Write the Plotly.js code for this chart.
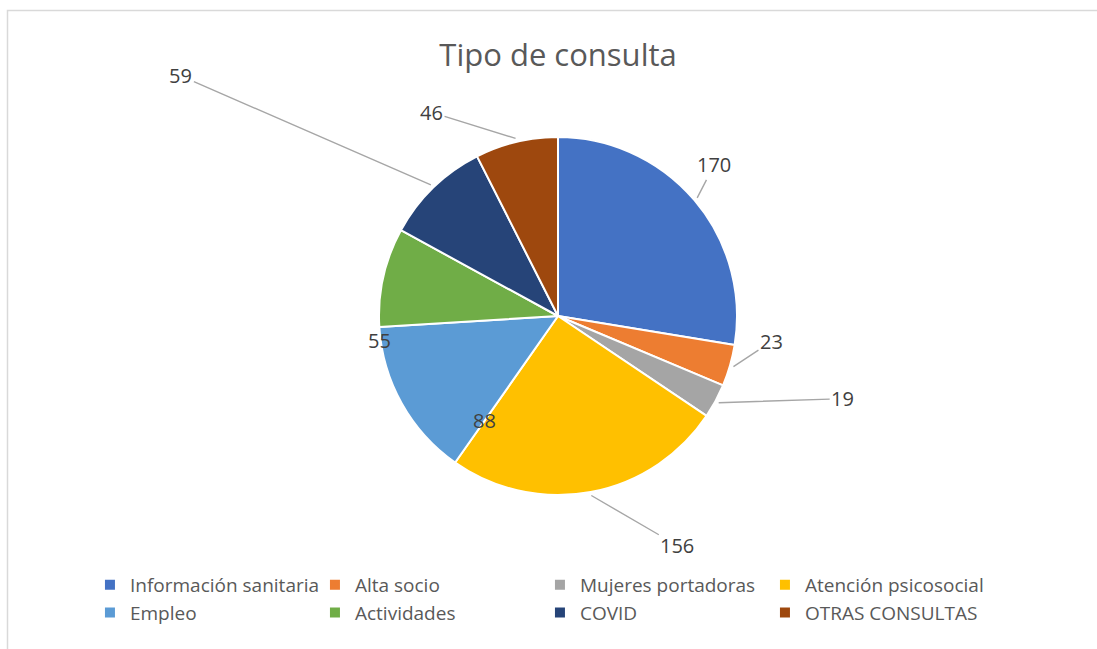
<!DOCTYPE html>
<html>
<head>
<meta charset="utf-8">
<script src="https://cdn.plot.ly/plotly-3.0.1.min.js"></script>
<style>
  html, body { margin: 0; padding: 0; background: #ffffff; }
  #chart { width: 1097px; height: 649px; }
</style>
</head>
<body>
<div id="chart"></div>
<script>
// ---- data ----
const categories = ["Información sanitaria", "Alta socio", "Mujeres portadoras", "Atención psicosocial",
                    "Empleo", "Actividades", "COVID", "OTRAS CONSULTAS"];
const values = [170, 23, 19, 156, 88, 55, 59, 46];
const sliceColors = ["#4472C4", "#ED7D31", "#A5A5A5", "#FFC000", "#5B9BD5", "#70AD47", "#264478", "#9E480E"];

// ---- label placement (layout only: pixel offsets from each slice's edge midpoint) ----
const labelOffsets = [[17, -33], [38, -25], [124, -4], [86, 50], [86, 15], [0, 64], [-250, -109], [-84, -26]];
const labelLeader  = [true, true, true, true, false, false, true, true];

// ---- geometry ----
const W = 1097, H = 649;
const cxPx = 558, cyPx = 316, rPx = 179;
const domX = [(cxPx - rPx) / W, (cxPx + rPx) / W];
const domY = [1 - (cyPx + rPx) / H, 1 - (cyPx - rPx) / H];

const total = values.reduce((a, b) => a + b, 0);
const annotations = [];
let cum = 0;
values.forEach((v, i) => {
  const mid = (cum + v / 2) / total * 2 * Math.PI; // clockwise from 12 o'clock
  cum += v;
  const ax = cxPx + rPx * 1.02 * Math.sin(mid);
  const ay = cyPx - rPx * 1.02 * Math.cos(mid);
  const base = {
    x: ax / W, y: 1 - ay / H, xref: 'paper', yref: 'paper',
    text: String(v),
    font: {family: 'Open Sans, sans-serif', size: 20, color: '#404040'}
  };
  if (labelLeader[i]) {
    Object.assign(base, {
      showarrow: true, arrowhead: 0, arrowwidth: 1.4, arrowcolor: '#A6A6A6', standoff: 0,
      ax: labelOffsets[i][0], ay: labelOffsets[i][1], axref: 'pixel', ayref: 'pixel'
    });
  } else {
    Object.assign(base, {showarrow: false, xshift: labelOffsets[i][0], yshift: -labelOffsets[i][1]});
  }
  annotations.push(base);
});

const trace = {
  type: 'pie',
  labels: categories,
  values: values,
  sort: false,
  direction: 'clockwise',
  rotation: 0,
  textinfo: 'none',
  hoverinfo: 'label+value',
  marker: {colors: sliceColors, line: {color: '#ffffff', width: 2}},
  domain: {x: domX, y: domY}
};

const layout = {
  width: W, height: H,
  margin: {l: 0, r: 0, t: 0, b: 0},
  paper_bgcolor: '#ffffff',
  font: {family: 'Open Sans, sans-serif', color: '#595959'},
  title: {
    text: 'Tipo de consulta',
    font: {family: 'Open Sans, sans-serif', size: 31, color: '#595959'},
    x: 0.5087, xanchor: 'center', y: 1 - 55 / H, yanchor: 'middle'
  },
  showlegend: true,
  legend: {
    orientation: 'h',
    x: 0.082, xanchor: 'left',
    y: 1 - 566 / H, yanchor: 'top',
    entrywidth: 180, entrywidthmode: 'pixels',
    itemwidth: 30,
    font: {family: 'Open Sans, sans-serif', size: 19, color: '#595959'},
    traceorder: 'normal'
  },
  annotations: annotations,
  shapes: [{
    type: 'rect', xref: 'paper', yref: 'paper',
    x0: 7.5 / W, x1: 1.1, y0: -0.1, y1: 1 - 10.5 / H,
    line: {color: '#D9D9D9', width: 1.5}, fillcolor: 'rgba(0,0,0,0)', layer: 'below'
  }]
};

Plotly.newPlot('chart', [trace], layout, {displayModeBar: false, staticPlot: true});
</script>
</body>
</html>
